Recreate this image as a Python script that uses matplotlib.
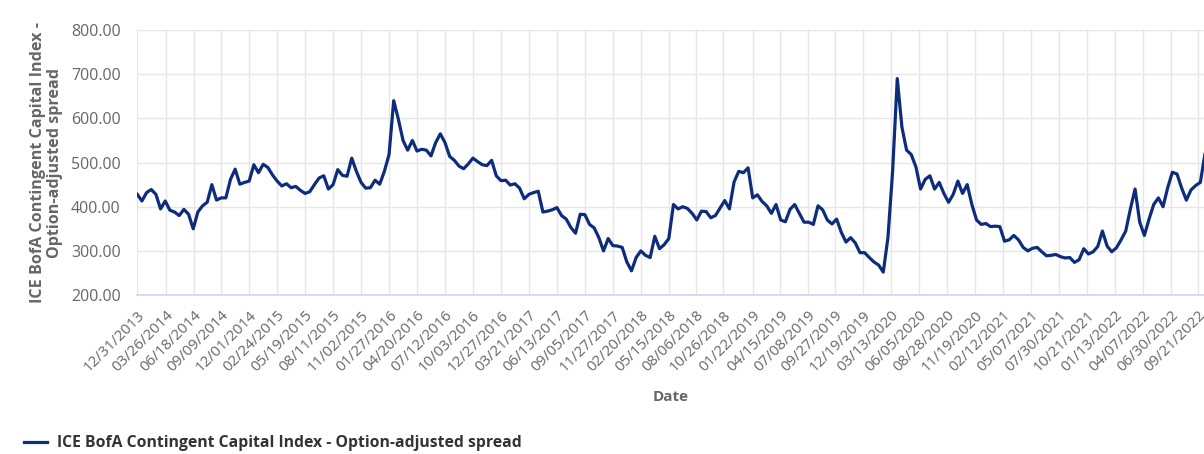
import matplotlib
matplotlib.use("Agg")
import matplotlib.pyplot as plt
import numpy as np
import pandas as pd

plt.rcParams['font.family'] = ['Open Sans', 'DejaVu Sans']

# biweekly readings of the option-adjusted spread, starting 12/31/2013
start_date = '2013-12-31'
oas = [
    428, 413, 432, 439, 428, 395, 413, 392, 388, 380,
    394, 383, 350, 388, 402, 410, 450, 415, 420, 420,
    462, 485, 451, 455, 458, 495, 477, 496, 489, 472,
    458, 447, 452, 443, 446, 437, 430, 434, 450, 465,
    470, 440, 450, 484, 471, 469, 510, 480, 455, 442,
    443, 460, 451, 480, 518, 640, 598, 550, 528, 550,
    526, 530, 528, 515, 545, 565, 545, 514, 505, 492,
    486, 497, 510, 502, 495, 493, 505, 470, 459, 460,
    449, 452, 442, 418, 428, 432, 435, 388, 390, 393,
    398, 380, 372, 353, 340, 383, 382, 360, 352, 330,
    300, 328, 312, 311, 308, 275, 255, 285, 300, 290,
    285, 333, 305, 314, 328, 405, 395, 400, 396, 385,
    370, 390, 389, 375, 380, 397, 414, 395, 456, 480,
    477, 488, 420, 427, 412, 402, 385, 405, 370, 366,
    394, 405, 385, 365, 365, 360, 402, 393, 370, 361,
    372, 342, 320, 330, 318, 296, 296, 285, 275, 268,
    252, 330, 480, 690, 580, 528, 518, 490, 440, 462,
    470, 440, 455, 430, 410, 428, 458, 430, 450, 405,
    370, 360, 362, 355, 356, 355, 322, 325, 335, 325,
    308, 300, 306, 308, 298, 289, 290, 292, 287, 284,
    285, 274, 280, 305, 293, 298, 310, 345, 311, 298,
    307, 325, 345, 395, 440, 365, 335, 372, 405, 420,
    400, 443, 478, 474, 442, 415, 438, 448, 455, 520,
    508,
]

tick_dates = [
    '12/31/2013', '03/26/2014', '06/18/2014', '09/09/2014', '12/01/2014',
    '02/24/2015', '05/19/2015', '08/11/2015', '11/02/2015', '01/27/2016',
    '04/20/2016', '07/12/2016', '10/03/2016', '12/27/2016', '03/21/2017',
    '06/13/2017', '09/05/2017', '11/27/2017', '02/20/2018', '05/15/2018',
    '08/06/2018', '10/26/2018', '01/22/2019', '04/15/2019', '07/08/2019',
    '09/27/2019', '12/19/2019', '03/13/2020', '06/05/2020', '08/28/2020',
    '11/19/2020', '02/12/2021', '05/07/2021', '07/30/2021', '10/21/2021',
    '01/13/2022', '04/07/2022', '06/30/2022', '09/21/2022',
]

series_name = 'ICE BofA Contingent Capital Index - Option-adjusted spread'
line_color = '#0d2d7c'

dates = pd.date_range(start_date, periods=len(oas), freq='14D')
ticks = pd.to_datetime(tick_dates, format='%m/%d/%Y')

fig = plt.figure(figsize=(12.04, 4.54), dpi=100)
ax = fig.add_axes([0.114, 0.350, 0.886, 0.584])

ax.plot(dates, oas, color=line_color, lw=2.3, solid_joinstyle='round', zorder=3)

ax.set_ylim(200, 800)
ax.set_yticks(np.arange(200, 801, 100))
ax.yaxis.set_major_formatter(matplotlib.ticker.FormatStrFormatter('%.2f'))
ax.set_xlim(pd.Timestamp(start_date), pd.Timestamp(start_date) + pd.Timedelta(days=3203))
ax.set_xticks(ticks)
ax.set_xticklabels(tick_dates, rotation=45, ha='right', va='top', rotation_mode='anchor')

ax.grid(True, color='#e6e6e6', lw=1)
ax.set_axisbelow(True)
for side in ['top', 'right', 'left']:
    ax.spines[side].set_visible(False)
ax.spines['bottom'].set_color('#ccd6eb')
ax.spines['bottom'].set_linewidth(1.2)
ax.tick_params(axis='both', length=0, colors='#666666')
ax.tick_params(axis='x', pad=9, labelsize=10.8)
ax.tick_params(axis='y', pad=12, labelsize=11.5)

ax.set_xlabel('Date', color='#666666', fontsize=11, fontweight='bold', labelpad=11)
ax.set_ylabel('ICE BofA Contingent Capital Index -\nOption-adjusted spread', color='#666666',
              fontsize=11.6, fontweight='bold', labelpad=6, linespacing=1.05)

fig.legend([plt.Line2D([], [], color=line_color, lw=2.3)], [series_name],
           loc='lower left', bbox_to_anchor=(0.008, -0.025), frameon=False,
           handlelength=1.5, handletextpad=0.6,
           prop={'weight': 'bold', 'size': 11.3}, labelcolor='#333333')

fig.savefig('out.png', dpi=100)
